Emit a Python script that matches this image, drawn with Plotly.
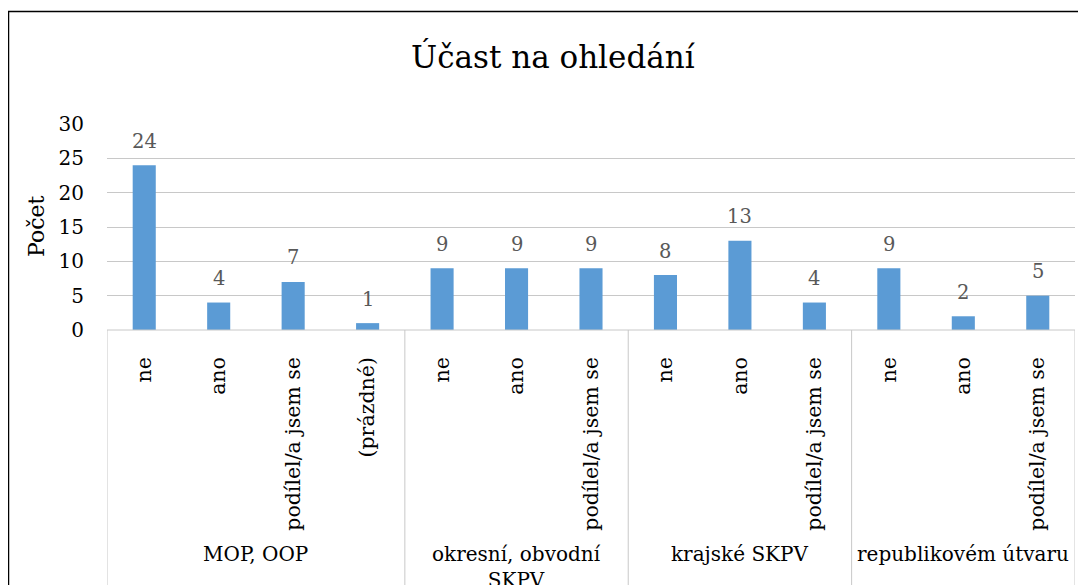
import plotly.graph_objects as go

title = "Účast na ohledání"
y_title = "Počet"
groups = ["MOP, OOP", "okresní, obvodní<br>SKPV", "krajské SKPV", "republikovém útvaru"]
group_sizes = [4, 3, 3, 3]
categories = ["ne", "ano", "podílel/a jsem se", "(prázdné)",
              "ne", "ano", "podílel/a jsem se",
              "ne", "ano", "podílel/a jsem se",
              "ne", "ano", "podílel/a jsem se"]
values = [24, 4, 7, 1, 9, 9, 9, 8, 13, 4, 9, 2, 5]
y_ticks = [0, 5, 10, 15, 20, 25, 30]

# page body has an 8px default margin; targets below are window pixels
OFF = 8
W, H = 1086, 585
PL, PR, PT, PB = 107, 1075, 124, 330  # plot area in window pixels
L, T = PL - OFF, PT - OFF
R = W - (PR - OFF)
B = H - (PB - OFF)
pw, ph = PR - PL, PB - PT

def px_x(px):
    return (px - PL) / pw

def px_y(py):
    return (PB - py) / ph

FONT = "DejaVu Serif"
BAR = "#5b9bd5"
GRID = "#c8c8c8"

x = list(range(len(categories)))

fig = go.Figure()
fig.add_trace(go.Bar(x=x, y=values, marker=dict(color=BAR, line=dict(width=0)),
                     width=0.31, hoverinfo="skip"))

annotations = []
for xi, v in zip(x, values):
    annotations.append(dict(x=xi, y=v, xref="x", yref="y", text=str(v), showarrow=False,
                            yanchor="middle", yshift=24,
                            font=dict(family=FONT, size=19.5, color="#595959")))

shapes = []
shapes.append(dict(type="line", xref="paper", yref="paper", x0=0, x1=1, y0=0, y1=0,
                   line=dict(color=GRID, width=1)))
start = 0
bounds = [-0.5]
for g, n in zip(groups, group_sizes):
    center = start + (n - 1) / 2
    annotations.append(dict(x=center, y=px_y(540), xref="x", yref="paper", text=g,
                            showarrow=False, yanchor="top", xanchor="center",
                            font=dict(family=FONT, size=20, color="#000000")))
    start += n
    bounds.append(start - 0.5)
for b in bounds:
    shapes.append(dict(type="line", xref="x", yref="paper", x0=b, x1=b,
                       y0=0, y1=px_y(600), line=dict(color=GRID, width=1)))

shapes.append(dict(type="rect", xref="paper", yref="paper",
                   x0=px_x(8.5), x1=px_x(1100), y0=px_y(600), y1=px_y(11.5),
                   line=dict(color="#000000", width=1.5), fillcolor="rgba(0,0,0,0)",
                   layer="above"))

annotations.append(dict(x=px_x(553), y=px_y(57), xref="paper", yref="paper", text=title,
                        showarrow=False, xanchor="center", yanchor="middle",
                        font=dict(family=FONT, size=31, color="#000000")))
annotations.append(dict(x=px_x(36), y=px_y(227), xref="paper", yref="paper", text=y_title,
                        showarrow=False, textangle=-90, xanchor="center", yanchor="middle",
                        font=dict(family=FONT, size=22, color="#000000")))

fig.update_layout(
    width=W, height=H,
    margin=dict(l=L, r=R, t=T, b=B, pad=0),
    paper_bgcolor="white", plot_bgcolor="white",
    showlegend=False,
    annotations=annotations,
    shapes=shapes,
    font=dict(family=FONT, color="#000000"),
)
fig.update_xaxes(range=[-0.5, len(categories) - 0.5], tickmode="array", tickvals=x,
                 ticktext=categories, tickangle=-90, showgrid=False, zeroline=False,
                 showline=False, ticks="", ticklabelstandoff=22,
                 tickfont=dict(family=FONT, size=20.5, color="#000000"), fixedrange=True)
fig.update_yaxes(range=[0, 30], tickmode="array", tickvals=y_ticks, showgrid=True,
                 gridcolor=GRID, gridwidth=1, zeroline=False, showline=False, ticks="",
                 ticklabelstandoff=22,
                 tickfont=dict(family=FONT, size=20, color="#000000"), fixedrange=True)

fig.write_html("out.html")
